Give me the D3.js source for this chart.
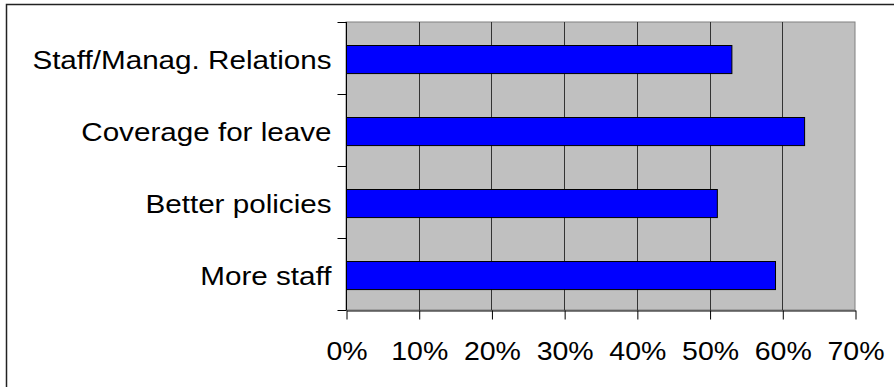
<!DOCTYPE html>
<html>
<head>
<meta charset="utf-8">
<script src="https://cdn.jsdelivr.net/npm/d3@7"></script>
<style>
  html, body { margin: 0; padding: 0; background: #ffffff; }
  svg { display: block; }
</style>
</head>
<body>
<svg id="chart" width="894" height="387"></svg>
<script>
// Survey responses: share of respondents choosing each improvement
const categories = ["Staff/Manag. Relations", "Coverage for leave", "Better policies", "More staff"];
const values = [0.53, 0.63, 0.51, 0.59];
const tickValues = [0, 0.1, 0.2, 0.3, 0.4, 0.5, 0.6, 0.7];

const svg = d3.select("#chart");
const font = "'Liberation Sans', Arial, sans-serif";
const stretch = 1.14; // text is drawn slightly wide

// Outer frame
svg.append("rect")
  .attr("x", 6.5).attr("y", 4.5)
  .attr("width", 900).attr("height", 400)
  .attr("fill", "#ffffff")
  .attr("stroke", "#222").attr("stroke-width", 1.5);

const plot = { left: 346, right: 855, top: 22, bottom: 310 };

const x = d3.scaleLinear().domain([0, 0.7]).range([plot.left, plot.right]);
const y = d3.scaleBand().domain(categories).range([plot.top, plot.bottom]).paddingInner(0.61).paddingOuter(0.305);
const yb = d3.scaleBand().domain(categories).range([plot.top, plot.bottom]);

// Plot background
svg.append("rect")
  .attr("x", plot.left).attr("y", plot.top)
  .attr("width", plot.right - plot.left).attr("height", plot.bottom - plot.top)
  .attr("fill", "#c0c0c0")
  .attr("stroke", "#808080").attr("stroke-width", 1);

// Vertical gridlines
svg.append("g")
  .selectAll("line")
  .data(tickValues.slice(1, -1))
  .join("line")
  .attr("x1", d => Math.round(x(d)) + 0.5).attr("x2", d => Math.round(x(d)) + 0.5)
  .attr("y1", plot.top).attr("y2", plot.bottom)
  .attr("stroke", "#333").attr("stroke-width", 1);

// Bars
svg.append("g")
  .selectAll("rect")
  .data(values)
  .join("rect")
  .attr("x", x(0) + 0.5)
  .attr("y", (d, i) => Math.round(y(categories[i]) + 1) + 0.5)
  .attr("width", d => x(d) - x(0))
  .attr("height", y.bandwidth())
  .attr("fill", "#0000ff")
  .attr("stroke", "#000").attr("stroke-width", 1);

// X axis
const xAxis = d3.axisBottom(x)
  .tickValues(tickValues)
  .tickFormat(d3.format(".0%"))
  .tickSize(9)
  .tickSizeOuter(0)
  .tickPadding(23);

const gx = svg.append("g")
  .attr("transform", `translate(0.5,${plot.bottom + 0.5})`)
  .call(xAxis);
gx.select(".domain").attr("stroke", "#000");
gx.selectAll(".tick line").attr("stroke", "#000");
gx.selectAll(".tick text")
  .attr("fill", "#000")
  .attr("font-family", font)
  .attr("font-size", 25)
  .attr("transform", `scale(${stretch},1)`);

// Y axis: ticks at category boundaries
const gy = svg.append("g").attr("transform", `translate(${plot.left + 0.5},0)`);
gy.append("line")
  .attr("x1", 0).attr("x2", 0)
  .attr("y1", plot.top).attr("y2", plot.bottom)
  .attr("stroke", "#000");
const bounds = categories.map(c => yb(c)).concat([plot.bottom]);
gy.selectAll("line.tk")
  .data(bounds)
  .join("line")
  .attr("class", "tk")
  .attr("x1", -9).attr("x2", 0)
  .attr("y1", d => Math.round(d) + 0.5).attr("y2", d => Math.round(d) + 0.5)
  .attr("stroke", "#000");

gy.selectAll("text")
  .data(categories)
  .join("text")
  .attr("transform", d => `translate(-15,${yb(d) + yb.bandwidth() / 2 + 11}) scale(${stretch},1)`)
  .attr("text-anchor", "end")
  .attr("font-family", font)
  .attr("font-size", 26)
  .attr("fill", "#000")
  .text(d => d);
</script>
</body>
</html>
